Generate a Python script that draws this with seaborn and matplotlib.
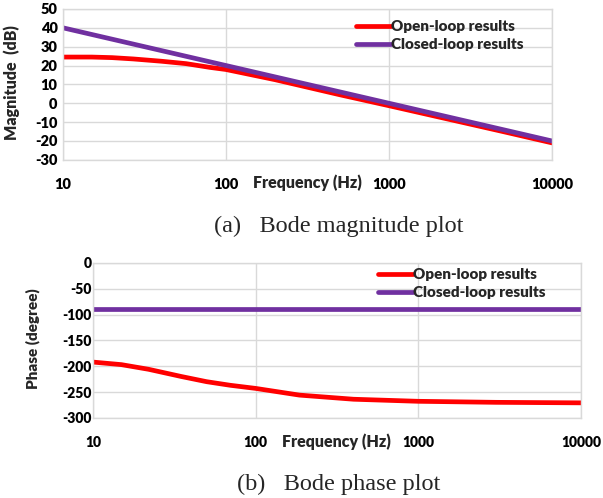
import matplotlib
matplotlib.use("Agg")
import matplotlib.pyplot as plt
import seaborn as sns
import pandas as pd
from matplotlib.lines import Line2D

# ---- data ----
freq_open_mag = [10, 15, 20, 27, 40, 57, 80, 100, 200, 500, 1000, 2000, 5000, 10000]
open_mag = [24.5, 24.5, 24.2, 23.5, 22.3, 21.0, 19.0, 17.9, 12.5, 4.5, -1.3, -7.2, -15.0, -21.0]
freq_closed_mag = [10, 100, 1000, 10000]
closed_mag = [40, 20, 0, -20]

freq_open_ph = [10, 15, 22, 35, 50, 70, 100, 186, 400, 1000, 3000, 10000]
open_ph = [-192, -197, -206, -220, -230, -237, -243, -256, -264, -268, -270, -271]
freq_closed_ph = [10, 100, 1000, 10000]
closed_ph = [-90, -90, -90, -90]

series_names = ["Open-loop results", "Closed-loop results"]
colors = ["#FF0000", "#7030A0"]
mag_ticks = [50, 40, 30, 20, 10, 0, -10, -20, -30]
ph_ticks = [0, -50, -100, -150, -200, -250, -300]
x_ticks = [10, 100, 1000, 10000]
x_ticklabels = ["10", "100", "1000", "10000"]

sns.set_theme(style="white")
plt.rcParams["font.family"] = ["Lato", "DejaVu Sans"]

df_mag = pd.concat([
    pd.DataFrame({"f": freq_open_mag, "v": open_mag, "s": series_names[0]}),
    pd.DataFrame({"f": freq_closed_mag, "v": closed_mag, "s": series_names[1]}),
])
df_ph = pd.concat([
    pd.DataFrame({"f": freq_open_ph, "v": open_ph, "s": series_names[0]}),
    pd.DataFrame({"f": freq_closed_ph, "v": closed_ph, "s": series_names[1]}),
])

fig = plt.figure(figsize=(6.03, 4.98), dpi=100)
ax1 = fig.add_axes([0.1045, 0.679, 0.811, 0.303])
ax2 = fig.add_axes([0.154, 0.161, 0.8095, 0.311])

grid_c = "#D9D9D9"
pal = dict(zip(series_names, colors))
W = "heavy"

def style(ax, ylim, yticks, fs, ylabel, label_y, ylab_fs, ypad, ylab_x):
    ax.set_xscale("log")
    ax.set_xlim(10, 10000)
    ax.set_ylim(*ylim)
    ax.set_xticks(x_ticks)
    ax.set_xticklabels(x_ticklabels)
    ax.set_yticks(yticks)
    ax.set_yticklabels([str(t) for t in yticks])
    ax.minorticks_off()
    ax.grid(True, color=grid_c, linewidth=1.0)
    for sp in ax.spines.values():
        sp.set_color(grid_c)
        sp.set_linewidth(1.0)
    ax.tick_params(axis="both", length=0, labelsize=fs, colors="black")
    ax.tick_params(axis="x", pad=13)
    ax.tick_params(axis="y", pad=ypad)
    for lab in ax.get_xticklabels() + ax.get_yticklabels():
        lab.set_fontweight(W)
    ax.set_xlabel("")
    ax.set_ylabel(ylabel, fontsize=ylab_fs, fontweight=W)
    ax.yaxis.set_label_coords(ylab_x, 0.51)
    ax.text(0.5, label_y, "Frequency (Hz)", transform=ax.transAxes,
            ha="center", va="center", fontsize=11.5, fontweight=W)
    handles = [Line2D([], [], color=c, linewidth=3.4) for c in colors]
    return handles

sns.lineplot(data=df_mag, x="f", y="v", hue="s", palette=pal, ax=ax1,
             linewidth=3.4, legend=False, hue_order=series_names)
h = style(ax1, (-30, 50), mag_ticks, 10.5, "Magnitude  (dB)", -0.15, 11.5, 4, -0.088)
ax1.legend(h, series_names, loc="upper left", bbox_to_anchor=(0.58, 0.985),
           frameon=False, handlelength=2.3, handletextpad=0.0, labelspacing=0.32,
           prop={"weight": W, "size": 11}, borderaxespad=0.2)

sns.lineplot(data=df_ph, x="f", y="v", hue="s", palette=pal, ax=ax2,
             linewidth=3.4, legend=False, hue_order=series_names)
h = style(ax2, (-300, 0), ph_ticks, 10, "Phase (degree)", -0.155, 11, 1, -0.109)
ax2.legend(h, series_names, loc="upper left", bbox_to_anchor=(0.565, 1.025),
           frameon=False, handlelength=2.3, handletextpad=0.0, labelspacing=0.32,
           prop={"weight": W, "size": 11}, borderaxespad=0.2)

fig.text(0.562, 1 - 226 / 498, "(a)   Bode magnitude plot", ha="center", va="center",
         fontsize=17.5, family=["Liberation Serif", "DejaVu Serif"])
fig.text(0.562, 1 - 484 / 498, "(b)   Bode phase plot", ha="center", va="center",
         fontsize=17.5, family=["Liberation Serif", "DejaVu Serif"])

fig.savefig("out.png", dpi=100)
